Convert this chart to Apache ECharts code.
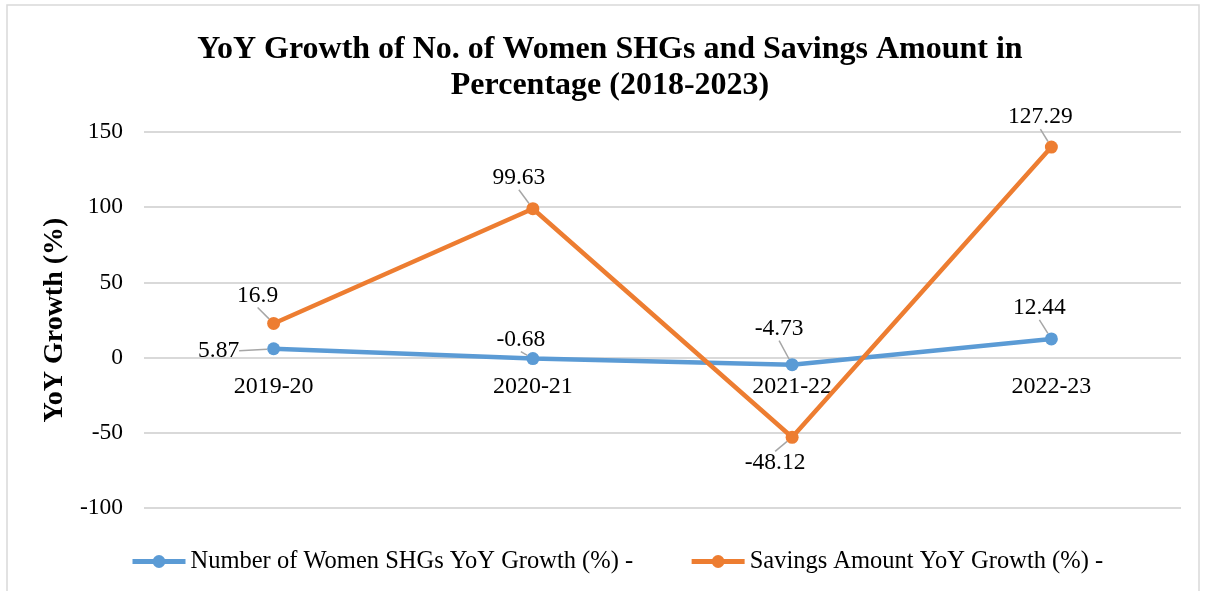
<!DOCTYPE html>
<html>
<head>
<meta charset="utf-8">
<script src="https://cdn.jsdelivr.net/npm/echarts@6/dist/echarts.min.js"></script>
<style>
  html, body { margin: 0; padding: 0; background: #fff; }
  #chart { width: 1205px; height: 591px; }
</style>
</head>
<body>
<div id="chart"></div>
<script>
// data
var years = ['2019-20', '2020-21', '2021-22', '2022-23'];
var shgGrowth = [5.87, -0.68, -4.73, 12.44];
// where the orange points sit on the axis, and the labels printed next to them
var savingsGrowth = [22.7, 99, -53, 140];
var savingsLabels = ['16.9', '99.63', '-48.12', '127.29'];
var yTicks = [-100, -50, 0, 50, 100, 150];

// label shifts from the point (px)
var shgLabelShift = [[-55, 2], [-12, -19], [-13, -36], [-12, -31]];
var savLabelShift = [[-16, -28], [-14, -31], [-17, 26], [-11, -30]];

var font = '"Liberation Serif", "Times New Roman", serif';

var gridTop = 132, gridBottom = 83, chartH = 591;
// category labels sit under the zero line, not the bottom of the grid
var plotH = chartH - gridTop - gridBottom;
var zeroFromBottom = plotH * (0 - yTicks[0]) / (yTicks[yTicks.length - 1] - yTicks[0]);

var chart = echarts.init(document.getElementById('chart'));

var option = {
  backgroundColor: '#fff',
  textStyle: { fontFamily: font },
  animation: false,
  graphic: [{
    type: 'rect',
    shape: { x: 7, y: 5, width: 1192, height: 600 },
    style: { fill: 'none', stroke: '#d9d9d9', lineWidth: 1.5 },
    silent: true
  }],
  title: {
    text: 'YoY Growth of No. of Women SHGs and Savings Amount in\nPercentage (2018-2023)',
    left: 605,
    top: 27,
    textAlign: 'center',
    textStyle: {
      fontFamily: font,
      fontWeight: 'bold',
      fontSize: 32,
      lineHeight: 36,
      color: '#000'
    }
  },
  legend: {
    bottom: 17,
    left: 130,
    padding: 0,
    itemWidth: 53,
    itemHeight: 16,
    itemGap: 56,
    lineStyle: { width: 5 },
    textStyle: { fontFamily: font, fontSize: 24.5, color: '#000' },
    data: ['Number of Women SHGs YoY Growth (%) -', 'Savings Amount YoY Growth (%) -']
  },
  grid: {
    left: 144,
    right: 24,
    top: gridTop,
    bottom: gridBottom
  },
  xAxis: {
    type: 'category',
    data: years,
    offset: -zeroFromBottom,
    axisLine: { show: false, onZero: false },
    axisTick: { show: false },
    axisLabel: {
      fontFamily: font,
      fontSize: 24,
      color: '#000',
      margin: 17
    }
  },
  yAxis: {
    type: 'value',
    min: yTicks[0],
    max: yTicks[yTicks.length - 1],
    interval: 50,
    name: 'YoY Growth (%)',
    nameLocation: 'middle',
    nameGap: 58,
    nameTextStyle: { fontFamily: font, fontSize: 28, fontWeight: 'bold', color: '#000' },
    axisLine: { show: false },
    axisTick: { show: false },
    axisLabel: { fontFamily: font, fontSize: 23.5, color: '#000', margin: 21 },
    splitLine: { lineStyle: { color: '#d9d9d9', width: 2 } }
  },
  series: [
    {
      name: 'Number of Women SHGs YoY Growth (%) -',
      type: 'line',
      data: shgGrowth,
      symbol: 'circle',
      symbolSize: 13,
      lineStyle: { color: '#5b9bd5', width: 4.5 },
      itemStyle: { color: '#5b9bd5' },
      z: 2,
      label: {
        show: true,
        position: 'inside',
        fontFamily: font,
        fontSize: 23.5,
        color: '#000',
        formatter: function (p) { return String(p.value); }
      },
      labelLine: { show: true, lineStyle: { color: '#a6a6a6', width: 1.5 } },
      labelLayout: function (p) {
        var s = shgLabelShift[p.dataIndex];
        return { dx: s[0], dy: s[1] };
      }
    },
    {
      name: 'Savings Amount YoY Growth (%) -',
      type: 'line',
      data: savingsGrowth,
      symbol: 'circle',
      symbolSize: 13,
      lineStyle: { color: '#ed7d31', width: 4.5 },
      itemStyle: { color: '#ed7d31' },
      z: 3,
      label: {
        show: true,
        position: 'inside',
        fontFamily: font,
        fontSize: 23.5,
        color: '#000',
        formatter: function (p) { return savingsLabels[p.dataIndex]; }
      },
      labelLine: { show: true, lineStyle: { color: '#a6a6a6', width: 1.5 } },
      labelLayout: function (p) {
        var s = savLabelShift[p.dataIndex];
        return { dx: s[0], dy: s[1] };
      }
    }
  ]
};

chart.setOption(option);
</script>
</body>
</html>
